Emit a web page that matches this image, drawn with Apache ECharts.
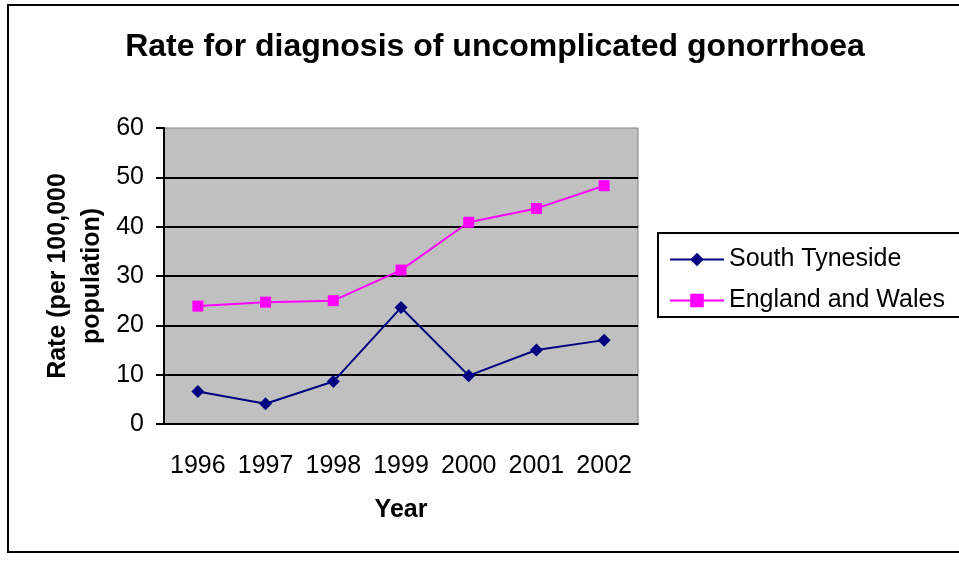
<!DOCTYPE html>
<html>
<head>
<meta charset="utf-8">
<script src="https://cdn.jsdelivr.net/npm/echarts@6/dist/echarts.min.js"></script>
<style>
  html, body { margin: 0; padding: 0; background: #fff; }
  #chart { width: 959px; height: 563px; }
</style>
</head>
<body>
<div id="chart"></div>
<script>
const years = ['1996', '1997', '1998', '1999', '2000', '2001', '2002'];
const southTyneside = [6.6, 4.1, 8.6, 23.6, 9.8, 15.0, 17.0];
const englandWales = [23.9, 24.7, 25.0, 31.2, 40.9, 43.7, 48.3];

const font = '"Liberation Sans", Arial, sans-serif';

const myChart = echarts.init(document.getElementById('chart'));

const option = {
  backgroundColor: '#fff',
  animation: false,
  title: {
    text: 'Rate for diagnosis of uncomplicated gonorrhoea',
    left: 490,
    textAlign: 'center',
    top: 26,
    textStyle: { fontFamily: font, fontSize: 32, fontWeight: 'bold', color: '#000' }
  },
  graphic: [
    {
      type: 'polyline',
      shape: { points: [[962, 5], [8, 5], [8, 552], [962, 552]] },
      style: { stroke: '#000', lineWidth: 2, fill: null }
    },
    {
      type: 'rect',
      shape: { x: 658, y: 233, width: 320, height: 84 },
      style: { stroke: '#000', lineWidth: 2, fill: '#fff' }
    }
  ],
  legend: {
    orient: 'vertical',
    left: 669,
    top: 247,
    padding: 0,
    itemWidth: 54,
    itemHeight: 17,
    itemGap: 16,
    z: 10,
    textStyle: { fontFamily: font, fontSize: 25, color: '#000', lineHeight: 25 },
    data: ['South Tyneside', 'England and Wales']
  },
  grid: {
    left: 164,
    top: 128,
    width: 474,
    height: 296,
    show: true,
    backgroundColor: '#C0C0C0',
    borderColor: '#808080',
    borderWidth: 1
  },
  xAxis: {
    type: 'category',
    data: years,
    boundaryGap: true,
    name: 'Year',
    nameLocation: 'middle',
    nameGap: 74,
    nameTextStyle: { fontFamily: font, fontSize: 25, fontWeight: 'bold', color: '#000' },
    axisLine: { lineStyle: { color: '#000', width: 2 } },
    axisTick: { length: 7, interval: 0, lineStyle: { color: '#000', width: 2 } },
    axisLabel: { interval: 0, margin: 30, fontFamily: font, fontSize: 25, color: '#000' },
    splitLine: { show: false }
  },
  yAxis: {
    type: 'value',
    min: 0,
    max: 60,
    interval: 10,
    name: 'Rate (per 100,000\npopulation)',
    nameLocation: 'middle',
    nameRotate: 90,
    nameGap: 55,
    nameTextStyle: { fontFamily: font, fontSize: 25, fontWeight: 'bold', color: '#000', lineHeight: 34 },
    axisLine: { show: true, lineStyle: { color: '#000', width: 2 } },
    axisTick: { show: true, length: 8, lineStyle: { color: '#000', width: 2 } },
    axisLabel: { margin: 20, fontFamily: font, fontSize: 25, color: '#000' },
    splitLine: { show: true, showMaxLine: false, lineStyle: { color: '#000', width: 2 } }
  },
  series: [
    {
      name: 'South Tyneside',
      type: 'line',
      data: southTyneside,
      symbol: 'diamond',
      symbolSize: 13,
      itemStyle: { color: '#000080' },
      lineStyle: { color: '#000080', width: 2 }
    },
    {
      name: 'England and Wales',
      type: 'line',
      data: englandWales,
      symbol: 'rect',
      symbolSize: 11,
      itemStyle: { color: '#FF00FF' },
      lineStyle: { color: '#FF00FF', width: 2 }
    }
  ]
};

myChart.setOption(option);
</script>
</body>
</html>
